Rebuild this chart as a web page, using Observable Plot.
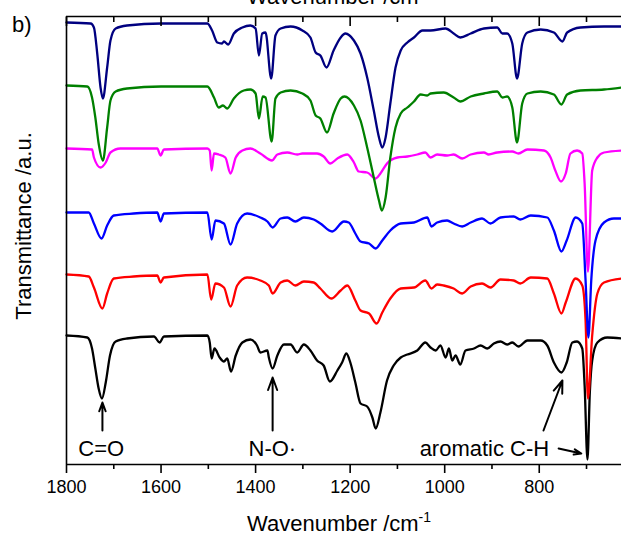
<!DOCTYPE html>
<html>
<head>
<meta charset="utf-8">
<script src="https://cdn.jsdelivr.net/npm/d3@7"></script>
<script src="https://cdn.jsdelivr.net/npm/@observablehq/plot@0.6"></script>
<style>
  html, body { margin: 0; padding: 0; background: white; }
  #chart { width: 621px; height: 536px; overflow: hidden; }
</style>
</head>
<body>
<div id="chart"></div>
<script>
// Spectra: [wavenumber (cm^-1), transmittance (a.u., stacked)]
const navy = [[1800,442],[1749,441],[1742,437],[1735,411],[1728,377],[1723,366],[1714,397],[1707,424],[1696,436],[1672,439],[1600,441],[1502,441],[1492,434],[1481,422],[1471,421],[1467,423],[1458,420],[1446,431],[1428,437],[1411,439],[1400,436],[1393,409],[1386,431],[1379,432],[1367,386],[1358,429],[1347,436],[1326,438],[1301,434],[1284,427],[1273,412],[1263,409],[1250,397],[1235,414],[1220,427],[1210,431],[1192,424],[1178,411],[1164,387],[1150,354],[1139,327],[1132,317],[1125,327],[1115,361],[1104,397],[1093,414],[1079,422],[1065,427],[1047,434],[1030,434],[998,436],[981,431],[967,427],[945,431],[917,436],[889,437],[878,431],[868,431],[857,421],[847,386],[836,421],[825,432],[797,435],[769,432],[751,423],[741,432],[713,437],[663,438],[626,438]];
const green = [[1800,379],[1756,378],[1746,367],[1739,347],[1732,321],[1723,304],[1714,337],[1707,364],[1696,373],[1672,376],[1600,378],[1502,378],[1488,367],[1478,357],[1469,359],[1460,356],[1446,366],[1425,374],[1411,375],[1400,371],[1393,346],[1385,368],[1379,367],[1366,323],[1358,366],[1347,372],[1326,374],[1301,371],[1284,364],[1273,349],[1263,346],[1249,332],[1235,351],[1220,366],[1212,368],[1192,359],[1178,344],[1164,317],[1150,287],[1139,264],[1133,254],[1125,267],[1115,307],[1104,337],[1093,351],[1079,357],[1065,363],[1051,370],[1037,369],[1030,371],[1002,372],[981,367],[967,363],[945,368],[917,371],[889,373],[878,367],[868,368],[857,357],[847,322],[836,361],[825,371],[797,373],[769,370],[753,360],[741,370],[713,374],[663,375],[626,377]];
const magenta = [[1800,316],[1746,315],[1742,307],[1728,297],[1717,302],[1707,312],[1686,316],[1608,316],[1601,309],[1594,315],[1502,316],[1497,314],[1493,294],[1488,311],[1478,310],[1464,307],[1453,291],[1442,307],[1428,314],[1411,316],[1390,311],[1365,304],[1354,310],[1333,312],[1312,310],[1301,311],[1270,311],[1256,308],[1242,301],[1227,306],[1206,310],[1192,302],[1182,293],[1164,292],[1146,286],[1136,291],[1122,301],[1100,307],[1079,308],[1058,310],[1041,312],[1030,307],[1016,310],[995,309],[981,310],[963,306],[945,310],[917,312],[907,310],[889,312],[857,313],[844,311],[825,315],[790,314],[776,307],[766,294],[754,283],[744,291],[734,311],[720,314],[709,311],[704,281],[697,193],[688,294],[677,307],[663,312],[626,314]];
const blue = [[1800,252],[1753,252],[1742,241],[1726,226],[1714,239],[1700,249],[1658,251],[1608,252],[1601,243],[1594,251],[1502,252],[1493,225],[1485,244],[1467,241],[1453,220],[1439,241],[1418,251],[1390,247],[1375,243],[1364,237],[1347,246],[1333,247],[1316,243],[1298,247],[1277,245],[1263,241],[1238,233],[1213,243],[1203,242],[1189,231],[1178,223],[1160,221],[1146,216],[1132,224],[1115,234],[1093,241],[1065,242],[1037,247],[1028,238],[1016,242],[995,244],[981,241],[963,238],[945,242],[921,246],[903,241],[882,247],[854,248],[840,245],[818,249],[783,247],[769,234],[753,213],[742,224],[723,247],[709,241],[702,184],[696,127],[690,184],[681,224],[663,242],[642,246],[626,246]];
const red = [[1800,190],[1753,188],[1742,177],[1724,156],[1714,171],[1700,186],[1658,188],[1608,189],[1601,182],[1594,187],[1502,190],[1494,165],[1485,181],[1467,177],[1453,158],[1439,179],[1418,187],[1390,184],[1372,179],[1364,171],[1347,182],[1333,184],[1316,179],[1298,183],[1277,182],[1263,176],[1240,166],[1220,174],[1206,179],[1189,164],[1178,154],[1160,151],[1144,141],[1132,152],[1115,166],[1093,176],[1065,177],[1041,184],[1028,176],[1016,180],[1002,179],[981,176],[963,171],[945,178],[921,181],[903,177],[882,185],[854,184],[840,181],[818,187],[783,186],[769,171],[753,151],[744,162],[723,186],[709,179],[702,144],[697,66],[688,129],[677,171],[663,182],[626,186]];
const black = [[1800,129],[1756,127],[1746,116],[1739,96],[1732,76],[1725,66],[1717,82],[1708,109],[1696,123],[1672,126],[1615,128],[1603,122],[1594,128],[1502,129],[1497,122],[1493,106],[1487,116],[1476,107],[1467,103],[1460,106],[1452,93],[1442,109],[1428,122],[1411,125],[1397,119],[1390,112],[1375,114],[1372,107],[1364,96],[1354,109],[1340,120],[1326,120],[1312,112],[1298,120],[1284,114],[1270,104],[1256,99],[1243,83],[1227,94],[1217,102],[1208,111],[1199,101],[1189,82],[1178,61],[1164,58],[1153,47],[1146,36],[1136,52],[1122,84],[1108,99],[1093,107],[1079,110],[1058,114],[1041,122],[1030,117],[1019,114],[1009,119],[998,107],[991,116],[984,104],[977,109],[967,100],[956,114],[938,116],[924,119],[910,116],[896,121],[882,123],[868,120],[857,122],[844,118],[825,124],[797,124],[783,119],[769,102],[753,92],[742,102],[730,122],[720,123],[709,116],[704,79],[698,5],[693,72],[688,104],[677,122],[656,127],[626,126]];

const majorTicks = [1800, 1600, 1400, 1200, 1000, 800];
const minorTicks = [1700, 1500, 1300, 1100, 900, 700];

const labels = ["C=O", "N-O\u00B7", "aromatic C-H"];
const labelX = [1775, 1415, 1053];
const labelY = [9, 9, 9];

// arrows: [x1, y1, x2, y2]
const arrows = [[1724, 34, 1724, 62], [1364, 34, 1364, 87], [791, 34, 751, 84], [759, 16, 711, 11]];

const FONT = "'Liberation Sans', Arial, Helvetica, sans-serif";
const series = [
  [black, "#000000"], [red, "#ff0000"], [blue, "#0000ff"],
  [magenta, "#ff00ff"], [green, "#008000"], [navy, "#000080"]
];

const chart = Plot.plot({
  width: 621, height: 536,
  marginLeft: 66, marginRight: 0, marginTop: 16, marginBottom: 72,
  style: {fontFamily: FONT, fontSize: "18px", background: "white", color: "black"},
  x: {domain: [1800, 626]},
  y: {domain: [0, 448], axis: null},
  marks: [
    ...series.map(([d, c]) => Plot.line(d, {x: p => p[0], y: p => p[1], stroke: c, strokeWidth: 2.3, curve: "monotone-x"})),
    Plot.ruleY([0, 448], {stroke: "black", strokeWidth: 1.6}),
    Plot.ruleX([1800], {stroke: "black", strokeWidth: 1.6}),
    Plot.axisX({anchor: "bottom", ticks: majorTicks, tickSize: 9, tickPadding: 7, tickFormat: d => String(d), fontSize: 18, label: null, strokeWidth: 1.6}),
    Plot.axisX({anchor: "bottom", ticks: minorTicks, tickSize: 5, fill: "none", label: null, strokeWidth: 1.6}),
    Plot.axisX({anchor: "top", ticks: majorTicks, tickSize: -9, fill: "none", label: null, strokeWidth: 1.6}),
    Plot.axisX({anchor: "top", ticks: minorTicks, tickSize: -5, fill: "none", label: null, strokeWidth: 1.6}),
    Plot.arrow(arrows, {x1: d => d[0], y1: d => d[1], x2: d => d[2], y2: d => d[3], stroke: "black", strokeWidth: 2, headLength: 10, headAngle: 40}),
    Plot.text(labels, {x: (d, i) => labelX[i], y: (d, i) => labelY[i], text: d => d, textAnchor: "start", lineAnchor: "bottom", fontSize: 22, fill: "black"})
  ]
});

const svg = d3.select(chart);
function xLabel(y) {
  const t = svg.append("text").attr("x", 247).attr("y", y).attr("text-anchor", "start")
    .attr("font-family", FONT).attr("font-size", 22).attr("fill", "black");
  t.append("tspan").text("Wavenumber /cm");
  t.append("tspan").attr("dy", -9).attr("font-size", 14).text("-1");
}
xLabel(531);
xLabel(4);
svg.append("text").attr("transform", "translate(31,226) rotate(-90)")
  .attr("text-anchor", "middle").attr("font-family", FONT).attr("font-size", 22)
  .attr("fill", "black").text("Transmittance /a.u.");
svg.append("text").attr("x", 12).attr("y", 32).attr("text-anchor", "start").attr("font-family", FONT)
  .attr("font-size", 22).attr("fill", "black").text("b)");

document.getElementById("chart").appendChild(chart);
</script>
</body>
</html>
